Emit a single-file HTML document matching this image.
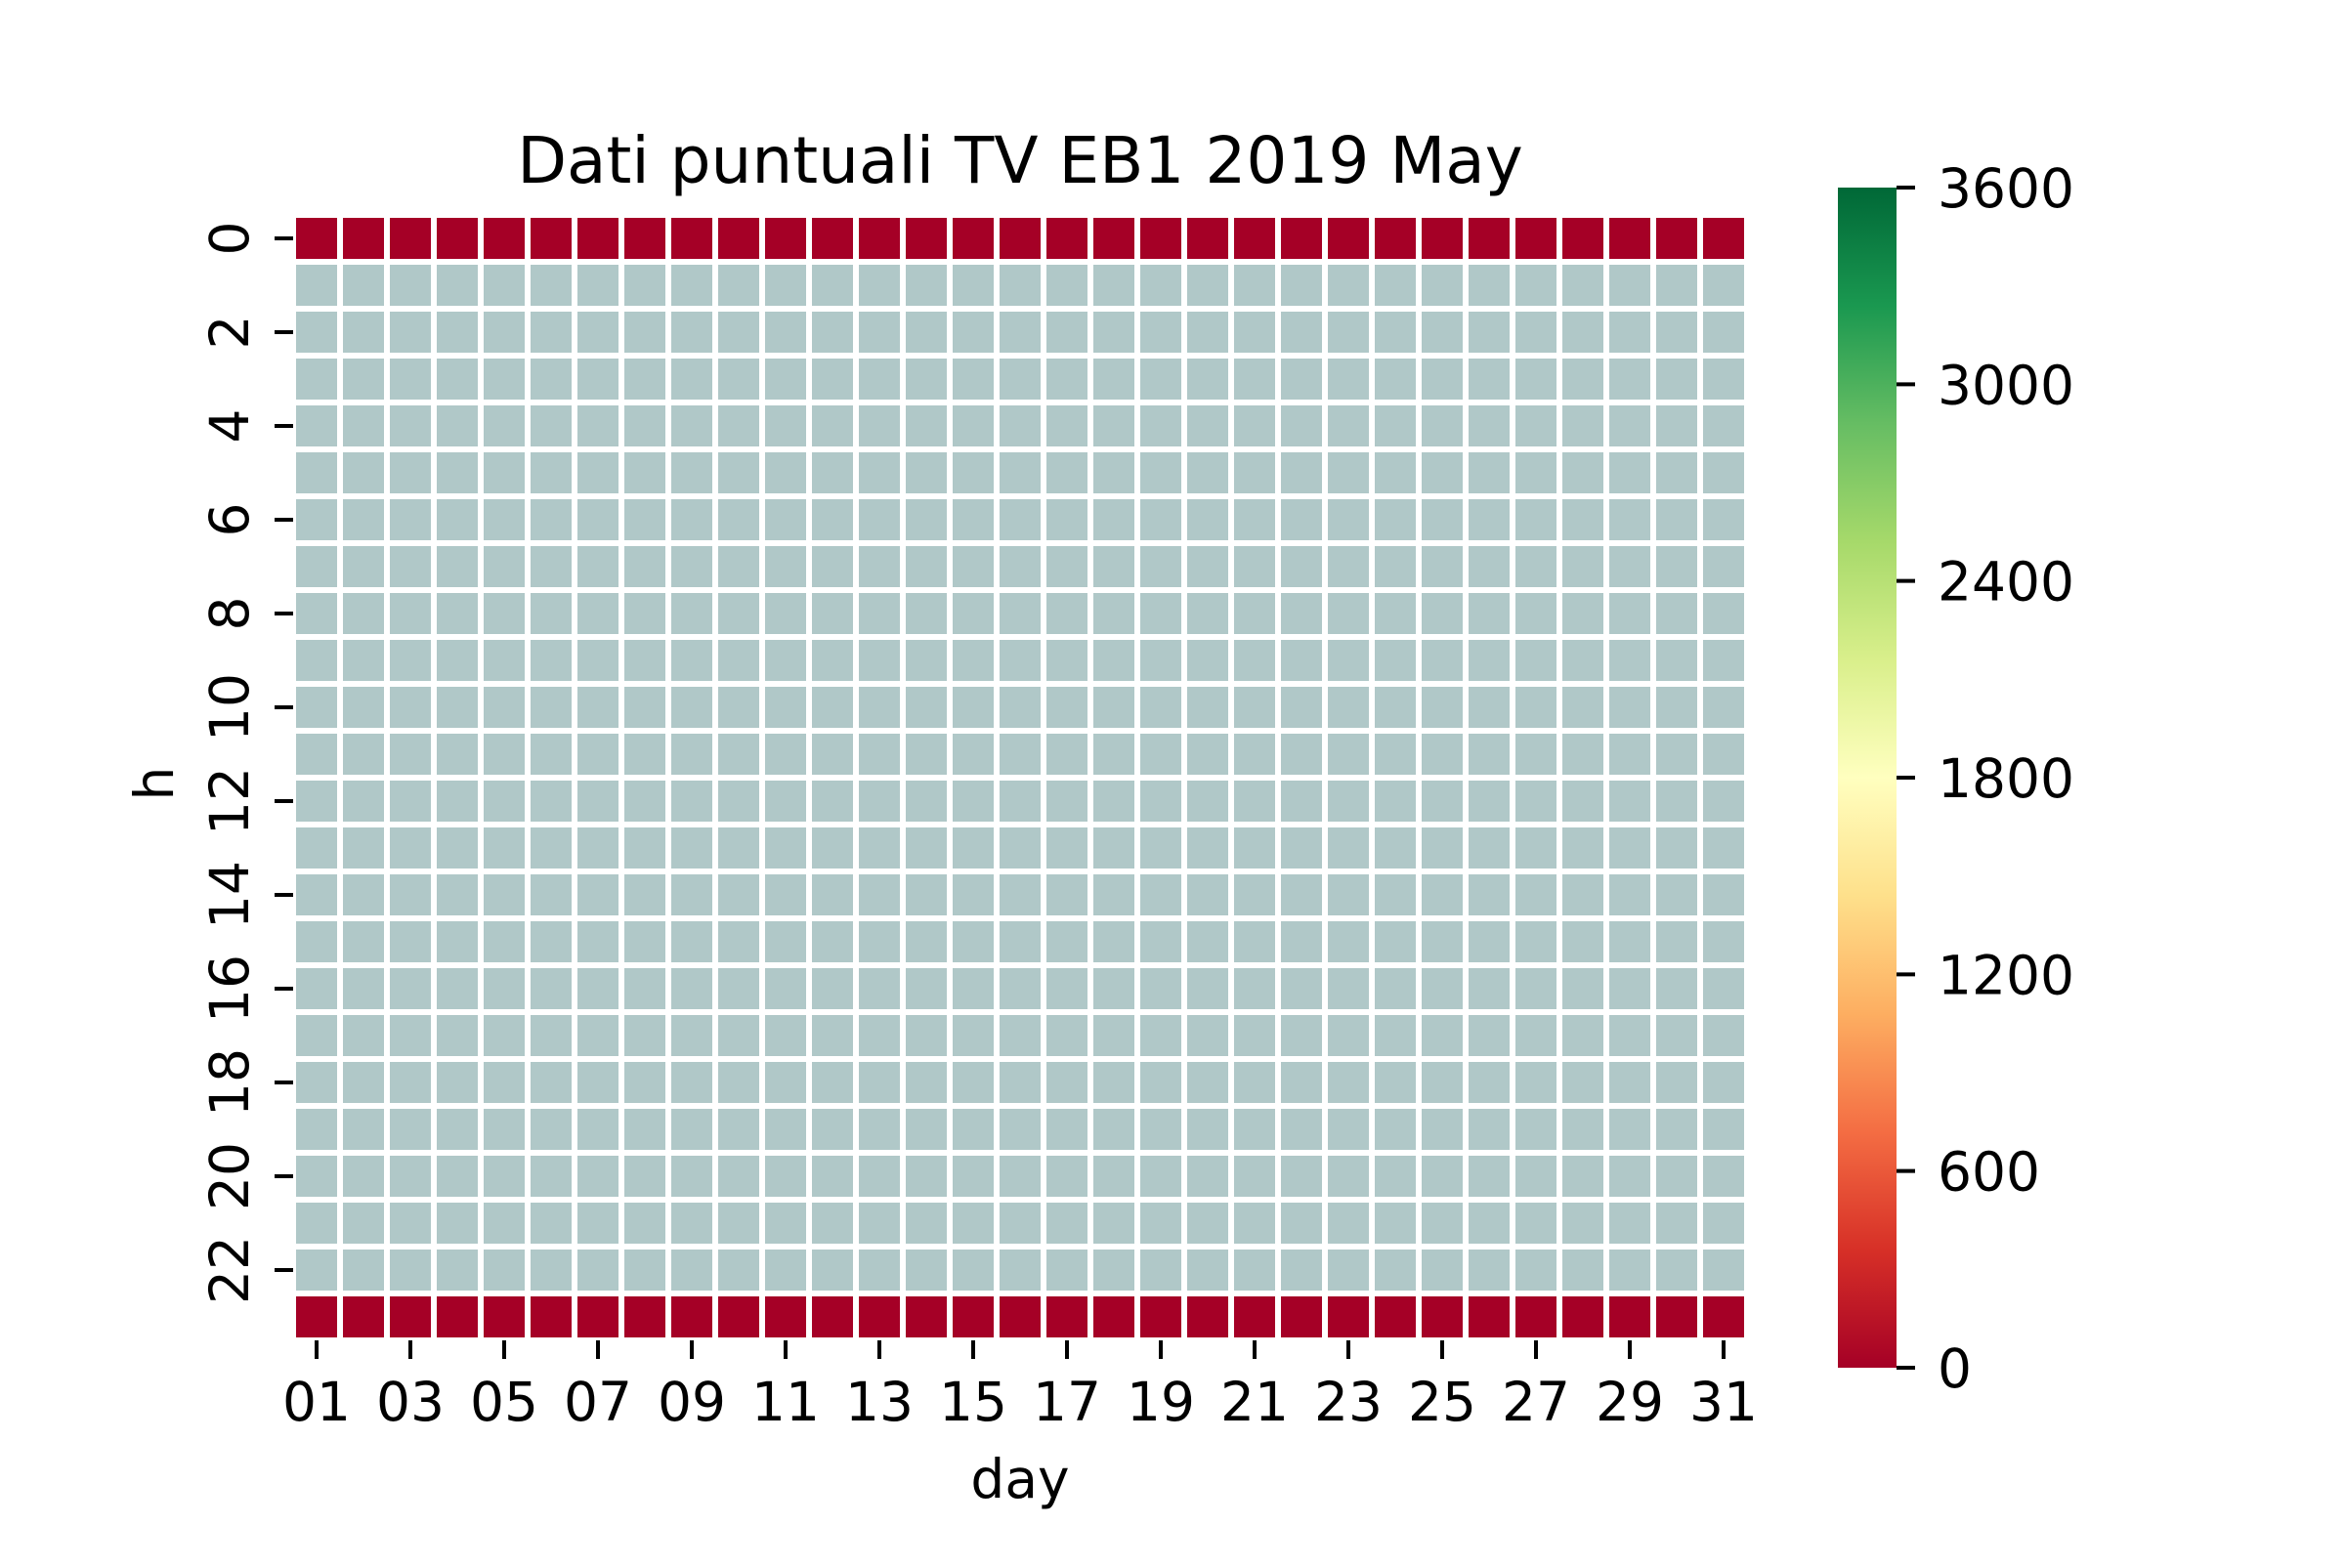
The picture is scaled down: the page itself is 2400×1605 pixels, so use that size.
<!DOCTYPE html>
<html><head><meta charset="utf-8"><style>
html,body{margin:0;padding:0;background:#fff;}
svg text{font-family:"DejaVu Sans","Liberation Sans",sans-serif;fill:#000;}
</style></head><body>
<svg id="chart" width="2400" height="1600" viewBox="0 0 2400 1600" xmlns="http://www.w3.org/2000/svg">
<defs>
<linearGradient id="rdylgn" x1="0" y1="1" x2="0" y2="0">
<stop offset="0" stop-color="#a50026"/><stop offset="0.1" stop-color="#d73027"/>
<stop offset="0.2" stop-color="#f46d43"/><stop offset="0.3" stop-color="#fdae61"/>
<stop offset="0.4" stop-color="#fee08b"/><stop offset="0.5" stop-color="#ffffbf"/>
<stop offset="0.6" stop-color="#d9ef8b"/><stop offset="0.7" stop-color="#a6d96a"/>
<stop offset="0.8" stop-color="#66bd63"/><stop offset="0.9" stop-color="#1a9850"/>
<stop offset="1" stop-color="#006837"/>
</linearGradient>
</defs>
<text x="1044" y="187" font-size="66" text-anchor="middle">Dati puntuali TV EB1 2019 May</text>
<g id="cells"></g>
<g id="axes"></g>
<rect x="1881" y="192" width="60" height="1208" fill="url(#rdylgn)"/>
<text x="1044" y="1533" font-size="55" text-anchor="middle">day</text>
<text x="177" y="802" font-size="55" text-anchor="middle" transform="rotate(-90 177 802)">h</text>
</svg>
<script>
const days = Array.from({length:31},(_,i)=>String(i+1).padStart(2,'0'));
const hours = Array.from({length:24},(_,i)=>i);
// value per hour row (same for all days); null = missing (NaN)
const rowValues = [0,null,null,null,null,null,null,null,null,null,null,null,null,null,null,null,null,null,null,null,null,null,null,0];
const cbTicks = [0,600,1200,1800,2400,3000,3600];
const vmax = 3600;
const stops = ['#a50026','#d73027','#f46d43','#fdae61','#fee08b','#ffffbf','#d9ef8b','#a6d96a','#66bd63','#1a9850','#006837'];

const X0=300, Y0=220, CW=48, CH=48;
const xPos = i => X0 + CW*i;
const yPos = r => Y0 + CH*r;
const cbTop=192, cbBot=1400;
const cbY = v => cbBot - v/vmax*(cbBot-cbTop);
function hex(c){return [1,3,5].map(k=>parseInt(c.substr(k,2),16));}
function color(v){
  const t=Math.max(0,Math.min(1,v/vmax))*10, i=Math.min(9,Math.floor(t)), f=t-i;
  const a=hex(stops[i]), b=hex(stops[i+1]);
  return 'rgb('+a.map((x,k)=>Math.round(x+(b[k]-x)*f)).join(',')+')';
}
const NS='http://www.w3.org/2000/svg';
function mk(tag, attrs, parent){const e=document.createElementNS(NS,tag);for(const k in attrs)e.setAttribute(k,attrs[k]);parent.appendChild(e);return e;}
const cells=document.getElementById('cells'), axes=document.getElementById('axes');
hours.forEach((h,r)=>{
  days.forEach((d,c)=>{
    const v=rowValues[r];
    const el=mk('rect',{x:xPos(c),y:yPos(r),width:CW,height:CH,fill:v===null?'#b0c8c8':color(v),stroke:'#fff','stroke-width':6},cells);
    
    
  });
});
days.forEach((d,c)=>{
  if(c%2!==0) return;
  const cx=xPos(c)+CW/2;
  mk('line',{x1:cx,x2:cx,y1:1372,y2:1391,stroke:'#000','stroke-width':4},axes);
  const t=mk('text',{x:cx,y:1454,'font-size':55,'text-anchor':'middle'},axes);
  t.textContent=d;
  
  
});
hours.forEach((h,r)=>{
  if(r%2!==0) return;
  const cy=yPos(r)+CH/2;
  mk('line',{x1:281,x2:300,y1:cy,y2:cy,stroke:'#000','stroke-width':4},axes);
  const t=mk('text',{x:254,y:cy,'font-size':55,'text-anchor':'middle',transform:'rotate(-90 254 '+cy+')'},axes);
  t.textContent=String(h);
  
  
});
cbTicks.forEach(v=>{
  const y=cbY(v);
  mk('line',{x1:1941,x2:1960,y1:y,y2:y,stroke:'#000','stroke-width':4},axes);
  const t=mk('text',{x:1983,y:y+20,'font-size':55},axes);
  t.textContent=String(v);
  
  
});
</script>
</body></html>
